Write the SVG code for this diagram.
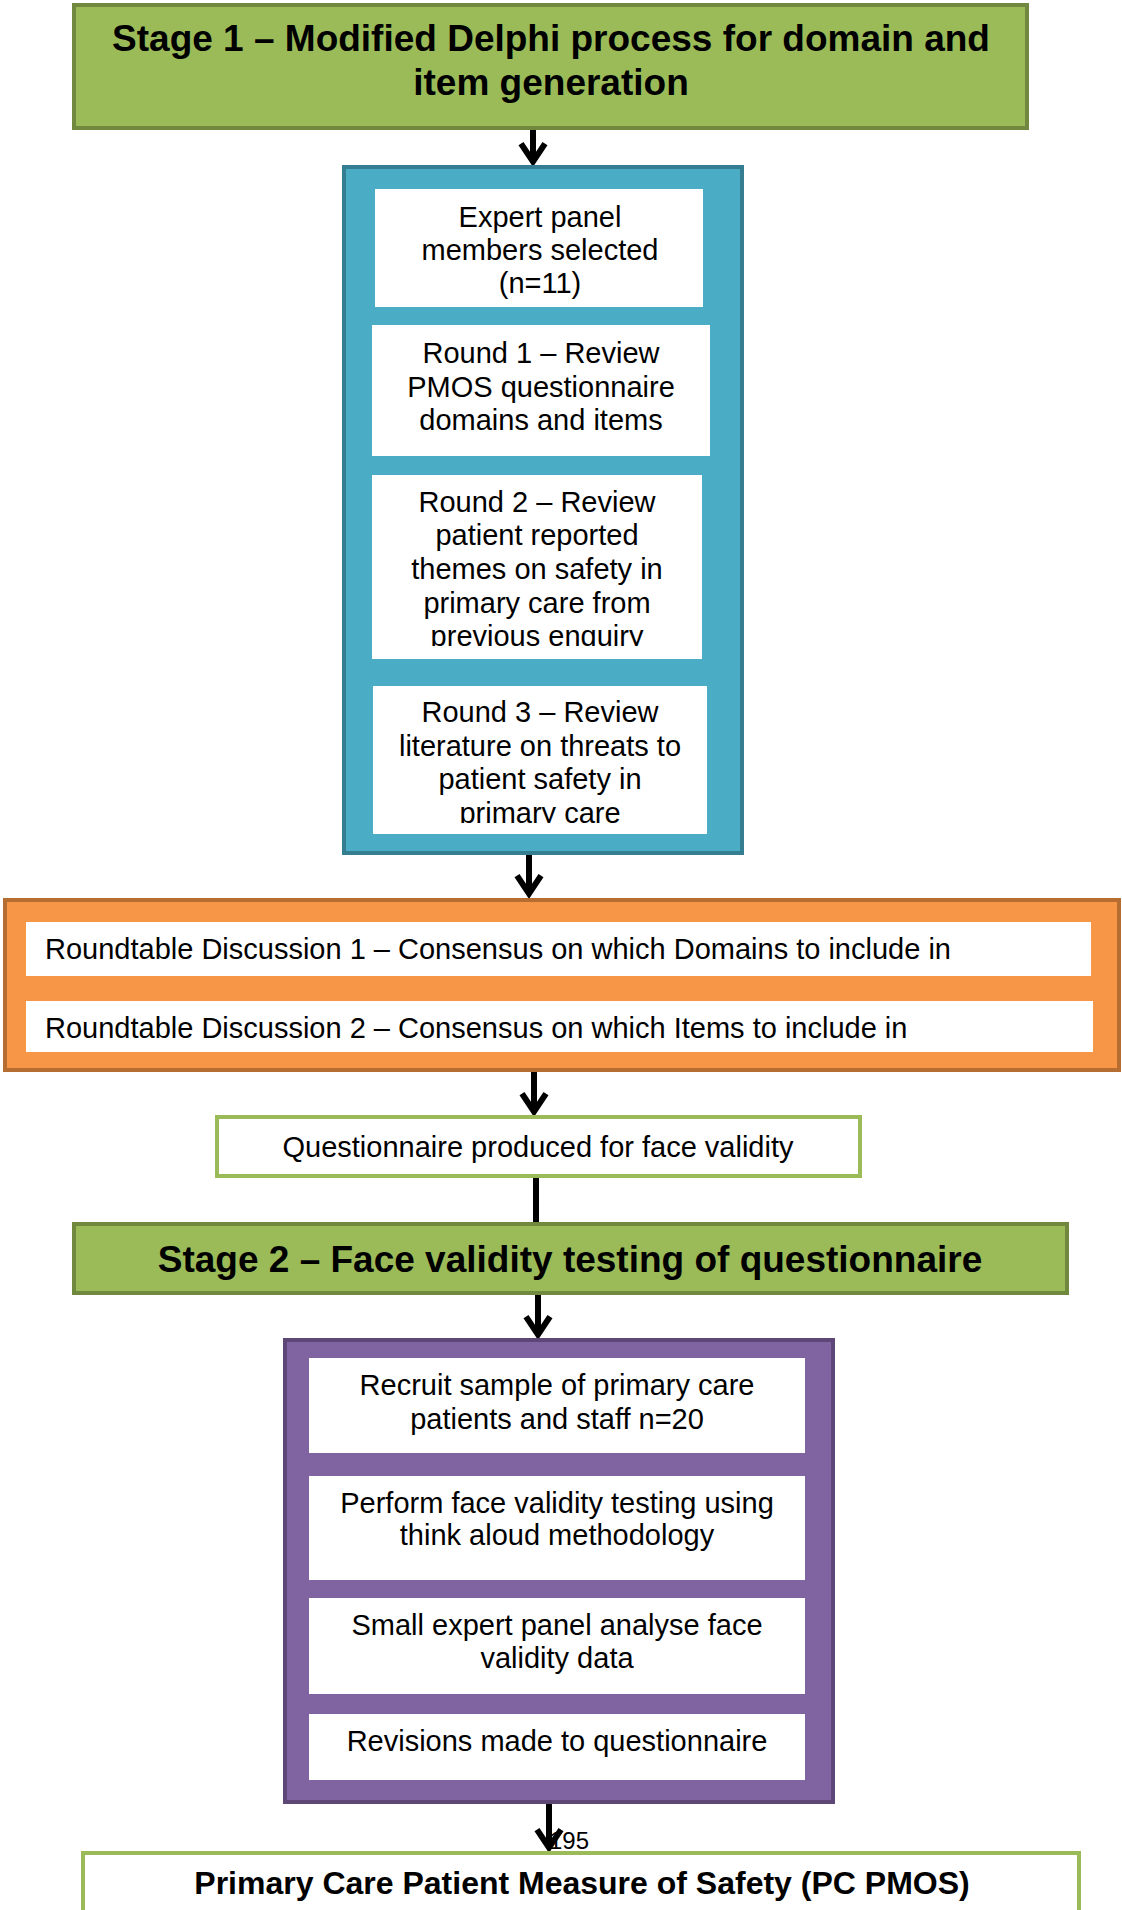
<svg xmlns="http://www.w3.org/2000/svg" width="1122" height="1910" viewBox="0 0 1122 1910">
<style>
text{font-family:"Liberation Sans",Arial,sans-serif;fill:#000}
.h{font-weight:bold;font-size:37px;text-anchor:middle}
.t{font-size:29px;text-anchor:middle}
.l{font-size:29px}
.w{fill:#fff}
.green{fill:#9BBB59;stroke:#71893F;stroke-width:4}
.blue{fill:#4BACC6;stroke:#357D91;stroke-width:4}
.orange{fill:#F79646;stroke:#B66D31;stroke-width:4}
.purple{fill:#8064A2;stroke:#5C4776;stroke-width:4}
.gbox{fill:#fff;stroke:#9BBB59;stroke-width:4}
.c{stroke:#000;stroke-width:6;fill:none}
</style>
<defs>
<marker id="arr" markerUnits="userSpaceOnUse" viewBox="0 0 28 28" refX="18.4" refY="14" markerWidth="28" markerHeight="28" orient="auto" overflow="visible">
<path d="M1,2 L19,14 L1,26" fill="none" stroke="#000" stroke-width="6"/>
</marker>
<clipPath id="clip3"><rect x="372" y="475" width="330" height="171"/></clipPath>
<clipPath id="clip4"><rect x="373" y="686" width="334" height="137"/></clipPath>
</defs>
<text x="549" y="1849" style="font-size:24px">195</text>
<g id="connectors">
<line class="c" x1="533" y1="128" x2="533" y2="161" marker-end="url(#arr)"/>
<line class="c" x1="529" y1="853" x2="529" y2="893" marker-end="url(#arr)"/>
<line class="c" x1="534" y1="1070" x2="534" y2="1111" marker-end="url(#arr)"/>
<line class="c" x1="536" y1="1176" x2="536" y2="1224"/>
<line class="c" x1="538" y1="1293" x2="538" y2="1334" marker-end="url(#arr)"/>
<line class="c" x1="549" y1="1802" x2="549" y2="1847" marker-end="url(#arr)"/>
</g>
<g id="stage1">
<rect class="green" x="74" y="5" width="953" height="123"/>
<text class="h" x="551" y="51">Stage 1 – Modified Delphi process for domain and</text>
<text class="h" x="551" y="95">item generation</text>
</g>
<g id="delphi">
<rect class="blue" x="344" y="167" width="398" height="686"/>
<g id="expert">
<rect class="w" x="375" y="189" width="328" height="118"/>
<text class="t" x="540" y="227">Expert panel</text>
<text class="t" x="540" y="260">members selected</text>
<text class="t" x="540" y="293">(n=11)</text>
</g>
<g id="round1">
<rect class="w" x="372" y="325" width="338" height="131"/>
<text class="t" x="541" y="363">Round 1 – Review</text>
<text class="t" x="541" y="397">PMOS questionnaire</text>
<text class="t" x="541" y="430">domains and items</text>
</g>
<g id="round2">
<rect class="w" x="372" y="475" width="330" height="184"/>
<g clip-path="url(#clip3)">
<text class="t" x="537" y="512">Round 2 – Review</text>
<text class="t" x="537" y="545">patient reported</text>
<text class="t" x="537" y="579">themes on safety in</text>
<text class="t" x="537" y="613">primary care from</text>
<text class="t" x="537" y="646">previous enquiry</text>
</g>
</g>
<g id="round3">
<rect class="w" x="373" y="686" width="334" height="148"/>
<g clip-path="url(#clip4)">
<text class="t" x="540" y="722">Round 3 – Review</text>
<text class="t" x="540" y="756">literature on threats to</text>
<text class="t" x="540" y="789">patient safety in</text>
<text class="t" x="540" y="823">primary care</text>
</g>
</g>
</g>
<g id="roundtable">
<rect class="orange" x="5" y="900" width="1114" height="170"/>
<g id="rt1">
<rect class="w" x="26" y="922" width="1065" height="54"/>
<text class="l" x="45" y="959">Roundtable Discussion 1 – Consensus on which Domains to include in</text>
</g>
<g id="rt2">
<rect class="w" x="26" y="1001" width="1067" height="51"/>
<text class="l" x="45" y="1038">Roundtable Discussion 2 – Consensus on which Items to include in</text>
</g>
</g>
<g id="questionnaire">
<rect class="gbox" x="217" y="1117" width="643" height="59"/>
<text class="t" x="538" y="1157">Questionnaire produced for face validity</text>
</g>
<g id="stage2">
<rect class="green" x="74" y="1224" width="993" height="69"/>
<text class="h" x="570" y="1272">Stage 2 – Face validity testing of questionnaire</text>
</g>
<g id="facevalidity">
<rect class="purple" x="285" y="1340" width="548" height="462"/>
<g id="recruit">
<rect class="w" x="309" y="1358" width="496" height="95"/>
<text class="t" x="557" y="1395">Recruit sample of primary care</text>
<text class="t" x="557" y="1429">patients and staff n=20</text>
</g>
<g id="perform">
<rect class="w" x="309" y="1476" width="496" height="104"/>
<text class="t" x="557" y="1513">Perform face validity testing using</text>
<text class="t" x="557" y="1545">think aloud methodology</text>
</g>
<g id="analyse">
<rect class="w" x="309" y="1598" width="496" height="96"/>
<text class="t" x="557" y="1635">Small expert panel analyse face</text>
<text class="t" x="557" y="1668">validity data</text>
</g>
<g id="revisions">
<rect class="w" x="309" y="1714" width="496" height="66"/>
<text class="t" x="557" y="1751">Revisions made to questionnaire</text>
</g>
</g>
<g id="pcpmos">
<rect class="gbox" x="83" y="1853" width="996" height="70"/>
<text x="582" y="1894" style="font-weight:bold;font-size:32px;text-anchor:middle">Primary Care Patient Measure of Safety (PC PMOS)</text>
</g>
</svg>
